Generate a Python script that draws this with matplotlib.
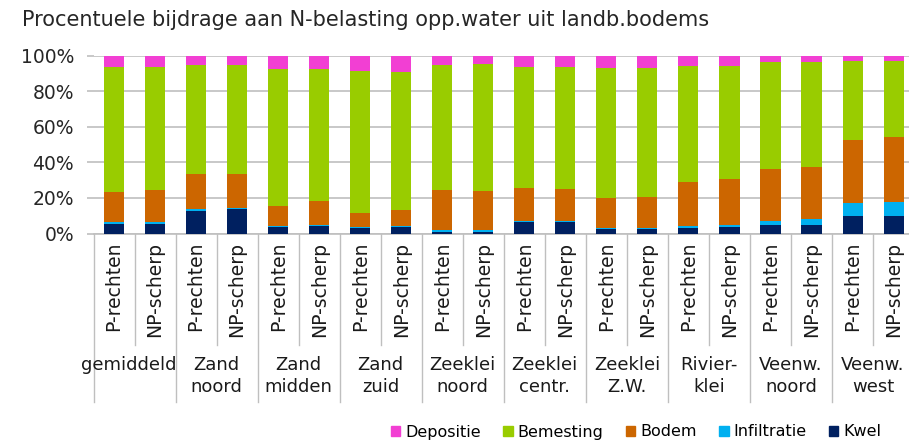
import numpy as np
import matplotlib as mpl; mpl.use('Agg')
import matplotlib.pyplot as plt
from matplotlib.patches import Patch

# gebieden en scenario's
groepen = ['gemiddeld', 'Zand\nnoord', 'Zand\nmidden', 'Zand\nzuid', 'Zeeklei\nnoord',
           'Zeeklei\ncentr.', 'Zeeklei\nZ.W.', 'Rivier-\nklei', 'Veenw.\nnoord', 'Veenw.\nwest']
scenarios = ['P-rechten', 'NP-scherp']

# bijdrage per bron (%), volgorde: per groep P-rechten, NP-scherp
kwel = [5.6, 5.6, 12.9, 13.7, 3.8, 4.3, 3.2, 3.8, 1.1, 0.9,
        6.4, 6.4, 2.6, 2.6, 3.2, 3.6, 4.7, 4.7, 9.6, 9.6]
infiltratie = [1.0, 1.0, 1.0, 0.4, 0.2, 0.2, 0.2, 0.2, 0.6, 0.8,
               0.5, 0.5, 0.6, 0.6, 1.1, 1.1, 2.6, 3.2, 7.5, 8.0]
bodem = [16.9, 18.0, 19.3, 19.1, 11.6, 13.7, 8.4, 9.3, 22.9, 22.3,
         18.8, 18.4, 16.5, 17.3, 24.6, 25.9, 28.9, 29.4, 35.4, 36.4]
bemesting = [70.3, 69.2, 61.4, 61.4, 77.1, 74.5, 79.4, 77.3, 70.3, 71.1,
             68.1, 68.5, 73.5, 72.7, 65.5, 63.8, 60.4, 59.3, 44.7, 43.2]
depositie = [6.2, 6.2, 5.4, 5.4, 7.3, 7.3, 8.8, 9.4, 5.1, 4.9,
             6.2, 6.2, 6.8, 6.8, 5.6, 5.6, 3.4, 3.4, 2.8, 2.8]

reeksen = [('Kwel', kwel, '#002060'),
           ('Infiltratie', infiltratie, '#00B0F0'),
           ('Bodem', bodem, '#CC6600'),
           ('Bemesting', bemesting, '#99CC00'),
           ('Depositie', depositie, '#F23FD3')]

fig = plt.figure(figsize=(9.09, 4.41), dpi=100)
ax = fig.add_axes([93.5/909, 207.5/441, 820.6/909, 177.8/441])

x = np.arange(len(kwel))
onder = np.zeros(len(kwel))
for naam, waarden, kleur in reeksen:
    ax.bar(x, waarden, width=0.49, bottom=onder, color=kleur, zorder=3)
    onder += np.array(waarden)

ax.set_xlim(-0.5, len(kwel) - 0.5)
ax.set_ylim(0, 100)
ax.set_yticks(np.arange(0, 101, 20))
ax.set_yticklabels([f'{v}%' for v in range(0, 101, 20)], fontsize=13.5, color='#262626')
ax.yaxis.grid(True, color='#BFBFBF', linewidth=1.2, zorder=0)
ax.tick_params(axis='y', length=5, width=1.2, color='#BFBFBF', pad=9)
ax.set_xticks(x)
ax.set_xticklabels(scenarios * len(groepen), rotation=90, fontsize=13.5, color='#1a1a1a')
ax.tick_params(axis='x', length=0, pad=6)
for s in ['top', 'right', 'left']:
    ax.spines[s].set_visible(False)
ax.spines['bottom'].set_color('#BFBFBF')
ax.spines['bottom'].set_linewidth(1.2)

# scheidingslijnen onder de as
tr = ax.get_xaxis_transform()
for i in range(len(kwel) + 1):
    xs = i - 0.5
    ylaag = -0.948 if i % 2 == 0 else -0.627
    ax.plot([xs, xs], [0, ylaag], transform=tr, color='#BFBFBF', lw=1.0, clip_on=False)

for g, naam in enumerate(groepen):
    xg = 2 * g + 0.5 if g > 0 else 0.35
    ax.text(xg, -0.69, naam, transform=tr, ha='center', va='top',
            fontsize=13, color='#1a1a1a', linespacing=1.3)

fig.text(22/909, 1 - 20/441, 'Procentuele bijdrage aan N-belasting opp.water uit landb.bodems',
         fontsize=15, color='#262626', va='center', ha='left')

handles = [Patch(color=k, label=n) for n, w, k in reeksen[::-1]]
fig.legend(handles=handles, loc='center', bbox_to_anchor=(636/909, 1 - 432/441), ncol=5,
           frameon=False, fontsize=11.5, handlelength=0.6, handleheight=0.6,
           handletextpad=0.3, columnspacing=1.4)

fig.savefig('out.png', dpi=100)
